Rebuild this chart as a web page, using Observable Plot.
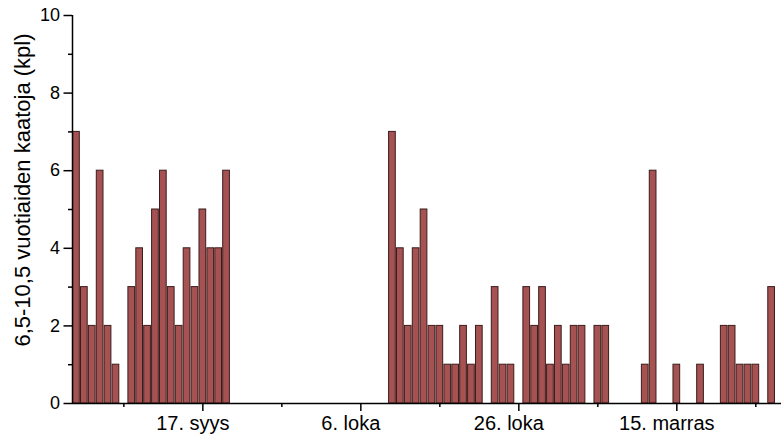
<!DOCTYPE html>
<html>
<head>
<meta charset="utf-8">
<script src="https://cdn.jsdelivr.net/npm/d3@7"></script>
<script src="https://cdn.jsdelivr.net/npm/@observablehq/plot@0.6"></script>
<style>
  html, body { margin: 0; padding: 0; background: #fff; }
  #chart svg { display: block; }
</style>
</head>
<body>
<div id="chart"></div>
<script>
// Daily catch counts of 6.5–10.5 year olds, one value per day from firstDay on
const firstDay = "2010-08-31";
const counts = [
  7, 3, 2, 6, 2, 1, 0, 3, 4, 2, 5, 6, 3, 2, 4, 3, 5, 4, 4, 6,
  0, 0, 0, 0, 0, 0, 0, 0, 0, 0, 0, 0, 0, 0, 0, 0, 0, 0, 0, 0,
  7, 4, 2, 4, 5, 2, 2, 1, 1, 2, 1, 2, 0, 3, 1, 1, 0, 3, 2, 3,
  1, 2, 1, 2, 2, 0, 2, 2, 0, 0, 0, 0, 1, 6, 0, 0, 1, 0, 0, 1,
  0, 0, 2, 2, 1, 1, 1, 0, 3
];

// Time axis: labelled ticks every 20 days, unlabelled ones in between
const tickDates = ["2010-09-16", "2010-10-06", "2010-10-26", "2010-11-15"];
const tickLabels = ["17. syys", "6. loka", "26. loka", "15. marras"];
const minorTickDates = ["2010-09-06", "2010-09-26", "2010-10-16", "2010-11-05", "2010-11-25"];
const xDomain = ["2010-08-30T12:00Z", "2010-11-28T06:00Z"];

// Count axis
const yTicks = [0, 2, 4, 6, 8, 10];
const yMinorTicks = [1, 3, 5, 7, 9];
const yTitle = "6,5-10,5 vuotiaiden kaatoja (kpl)";

const start = new Date(firstDay);
const days = counts
  .map((n, i) => ({date: d3.utcDay.offset(start, i), n}))
  .filter(d => d.n > 0);
const labelOf = new Map(tickDates.map((d, i) => [+new Date(d), tickLabels[i]]));

const chart = Plot.plot({
  width: 781,
  height: 437,
  marginTop: 15,
  marginBottom: 34,
  marginLeft: 72,
  marginRight: 0,
  style: {
    fontFamily: "'Liberation Sans', Arial, Helvetica, sans-serif",
    background: "#fff",
    color: "#000"
  },
  x: {type: "utc", domain: xDomain.map(d => new Date(d)), axis: null},
  y: {domain: [0, 10], axis: null},
  marks: [
    // one bar per day, centred on its date
    Plot.rectY(days, {
      x1: d => d3.utcHour.offset(d.date, -12),
      x2: d => d3.utcHour.offset(d.date, 12),
      y: "n",
      fill: "#a65252",
      stroke: "#3b1c1c",
      strokeWidth: 1,
      insetLeft: 0.6,
      insetRight: 0.6
    }),
    // x axis
    Plot.ruleY([0], {stroke: "#000", strokeWidth: 1.5}),
    Plot.axisX({ticks: tickDates.map(d => new Date(d)), tickSize: 8, fill: "none", strokeWidth: 1.5, label: null}),
    Plot.axisX({ticks: minorTickDates.map(d => new Date(d)), tickSize: 4, fill: "none", strokeWidth: 1.5, label: null}),
    Plot.axisX({
      ticks: tickDates.map(d => new Date(d)),
      tickSize: 0,
      tickPadding: 12,
      tickFormat: d => labelOf.get(+d),
      fontSize: 20,
      dx: -10,
      label: null
    }),
    // y axis
    Plot.ruleX([new Date(xDomain[0])], {stroke: "#000", strokeWidth: 1.5}),
    Plot.axisY({ticks: yTicks, tickSize: 8.5, tickPadding: 4, fontSize: 18, strokeWidth: 1.5, label: null}),
    Plot.axisY({ticks: yMinorTicks, tickSize: 4, fill: "none", strokeWidth: 1.5, label: null}),
    Plot.text([yTitle], {
      frameAnchor: "left",
      textAnchor: "middle",
      lineAnchor: "middle",
      rotate: -90,
      dx: -50,
      dy: -19.5,
      fontSize: 22,
      fill: "#000"
    })
  ]
});

document.getElementById("chart").appendChild(chart);
</script>
</body>
</html>
